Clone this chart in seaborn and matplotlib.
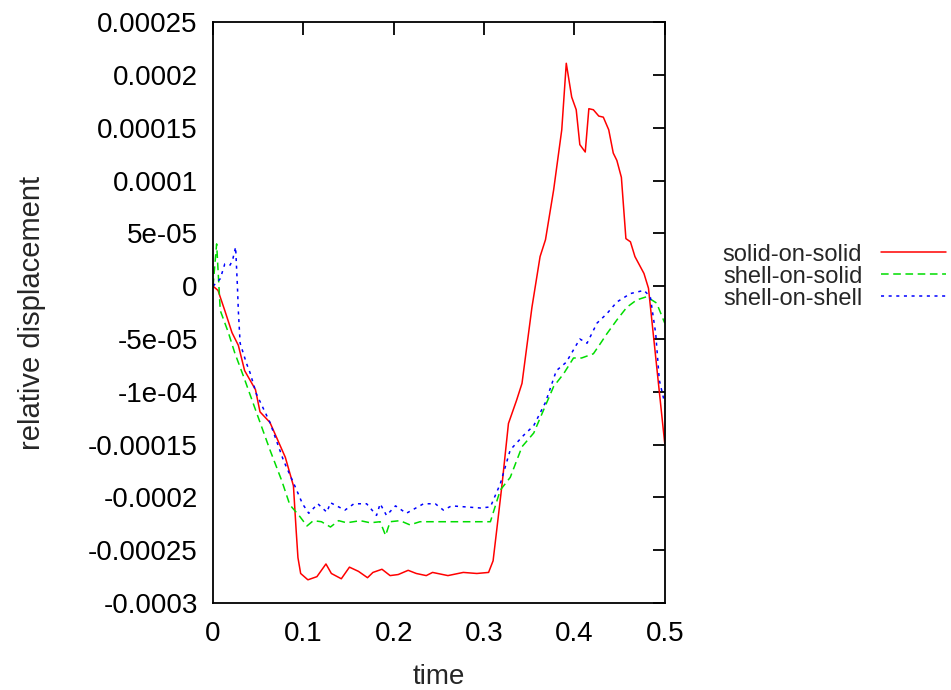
import numpy as np
import pandas as pd
import matplotlib
matplotlib.use("Agg")
import matplotlib.pyplot as plt
import seaborn as sns

# solid-on-solid
t_solid = [0.0, 0.0055, 0.013, 0.021, 0.028, 0.035, 0.047, 0.052, 0.063, 0.080, 0.089, 0.092,
           0.094, 0.097, 0.105, 0.115, 0.125, 0.131, 0.142, 0.151, 0.161, 0.171, 0.177, 0.187,
           0.196, 0.205, 0.216, 0.225, 0.236, 0.243, 0.260, 0.277, 0.292, 0.305, 0.310, 0.314,
           0.320, 0.327, 0.336, 0.342, 0.353, 0.362, 0.368, 0.377, 0.386, 0.391, 0.397,
           0.402, 0.406, 0.412, 0.416, 0.421, 0.427, 0.432, 0.438, 0.443, 0.447, 0.452, 0.457,
           0.462, 0.467, 0.477, 0.482, 0.5]
y_solid = [0.0, -0.4e-5, -2.3e-5, -4.4e-5, -5.6e-5, -8.0e-5, -9.8e-5, -1.19e-4, -1.29e-4,
           -1.62e-4, -1.89e-4, -2.31e-4, -2.57e-4, -2.72e-4, -2.78e-4, -2.75e-4, -2.63e-4,
           -2.72e-4, -2.77e-4, -2.66e-4, -2.70e-4, -2.76e-4, -2.71e-4, -2.68e-4, -2.74e-4,
           -2.73e-4, -2.69e-4, -2.72e-4, -2.74e-4, -2.71e-4, -2.74e-4, -2.71e-4, -2.72e-4,
           -2.71e-4, -2.60e-4, -2.31e-4, -1.87e-4, -1.30e-4, -1.08e-4, -0.92e-4, -0.20e-4,
           2.8e-5, 4.4e-5, 9.1e-5, 1.48e-4, 2.11e-4, 1.79e-4, 1.67e-4, 1.34e-4, 1.27e-4,
           1.68e-4, 1.67e-4, 1.61e-4, 1.60e-4, 1.48e-4, 1.26e-4, 1.19e-4, 1.03e-4, 4.5e-5,
           4.2e-5, 2.8e-5, 1.2e-5, -0.2e-5, -1.49e-4]

# shell-on-solid
t_shell_solid = [0.0, 0.004, 0.008, 0.017, 0.024, 0.034, 0.047, 0.063, 0.076, 0.085, 0.096,
                 0.104, 0.111, 0.120, 0.130, 0.139, 0.148, 0.163, 0.174, 0.185,
                 0.191, 0.196, 0.207, 0.218, 0.229, 0.25, 0.27, 0.29, 0.307, 0.318, 0.329,
                 0.342, 0.355, 0.369, 0.377, 0.388, 0.399, 0.408, 0.421, 0.429, 0.436,
                 0.447, 0.458, 0.469, 0.480, 0.491, 0.5]
y_shell_solid = [0.0, 4.0e-5, -2.3e-5, -4.4e-5, -6.3e-5, -8.6e-5, -1.17e-4, -1.55e-4, -1.84e-4,
                 -2.07e-4, -2.18e-4, -2.27e-4, -2.22e-4, -2.23e-4, -2.28e-4,
                 -2.22e-4, -2.24e-4, -2.22e-4, -2.24e-4, -2.23e-4, -2.36e-4, -2.23e-4, -2.22e-4,
                 -2.26e-4, -2.23e-4, -2.23e-4, -2.23e-4, -2.23e-4, -2.23e-4, -1.93e-4, -1.81e-4,
                 -1.52e-4, -1.39e-4, -1.11e-4, -0.95e-4, -0.83e-4, -0.68e-4, -0.68e-4,
                 -0.64e-4, -0.54e-4, -0.45e-4, -0.32e-4, -0.20e-4, -0.13e-4, -0.10e-4, -0.16e-4,
                 -0.35e-4]

# shell-on-shell
t_shell_shell = [0.0, 0.008, 0.013, 0.019, 0.022, 0.025, 0.027, 0.028, 0.030, 0.037, 0.041,
                 0.048, 0.063, 0.078, 0.091, 0.099, 0.106, 0.116, 0.126, 0.130, 0.146, 0.156,
                 0.170, 0.181, 0.185, 0.192, 0.202, 0.214, 0.233, 0.246, 0.255, 0.264, 0.296,
                 0.307, 0.318, 0.329, 0.344, 0.355, 0.368, 0.380, 0.391, 0.406, 0.414,
                 0.425, 0.436, 0.447, 0.462, 0.477, 0.484, 0.490, 0.494, 0.5]
y_shell_shell = [0.0, 0.7e-5, 2.1e-5, 2.0e-5, 2.6e-5, 3.7e-5, 0.0, -2.3e-5, -5.4e-5, -7.3e-5,
                 -8.2e-5, -1.02e-4, -1.29e-4, -1.65e-4, -1.90e-4, -2.06e-4, -2.15e-4, -2.06e-4,
                 -2.14e-4, -2.05e-4, -2.12e-4, -2.06e-4, -2.06e-4, -2.17e-4, -2.06e-4, -2.17e-4,
                 -2.08e-4, -2.15e-4, -2.06e-4, -2.06e-4, -2.12e-4, -2.08e-4, -2.10e-4, -2.09e-4,
                 -1.87e-4, -1.55e-4, -1.41e-4, -1.32e-4, -1.10e-4, -0.80e-4, -0.72e-4,
                 -0.50e-4, -0.54e-4, -0.35e-4, -0.26e-4, -0.15e-4, -0.07e-4, -0.04e-4, -0.10e-4,
                 -0.45e-4, -0.89e-4, -1.11e-4]

y_ticks = [0.00025, 0.0002, 0.00015, 0.0001, 5e-05, 0, -5e-05, -1e-04, -0.00015, -0.0002,
           -0.00025, -0.0003]
y_tick_labels = ["0.00025", "0.0002", "0.00015", "0.0001", "5e-05", "0", "-5e-05", "-1e-04",
                 "-0.00015", "-0.0002", "-0.00025", "-0.0003"]
x_ticks = [0, 0.1, 0.2, 0.3, 0.4, 0.5]
x_tick_labels = ["0", "0.1", "0.2", "0.3", "0.4", "0.5"]

sns.set_style("white")
plt.rcParams["font.family"] = ["Liberation Sans", "DejaVu Sans"]

fig = plt.figure(figsize=(9.51, 6.9), dpi=100)
ax = fig.add_axes([0.224, 0.126, 0.475, 0.842])

sns.lineplot(x=t_solid, y=y_solid, ax=ax, color="#ff0000", lw=1.1, label="solid-on-solid")
sns.lineplot(x=t_shell_solid, y=y_shell_solid, ax=ax, color="#00dd00", lw=1.1,
             label="shell-on-solid", linestyle=(0, (5, 3)))
sns.lineplot(x=t_shell_shell, y=y_shell_shell, ax=ax, color="#0000ff", lw=1.1,
             label="shell-on-shell", linestyle=(0, (2, 3)))

ax.set_xlim(0, 0.5)
ax.set_ylim(-0.0003, 0.00025)
ax.set_xticks(x_ticks)
ax.set_xticklabels(x_tick_labels)
ax.set_yticks(y_ticks)
ax.set_yticklabels(y_tick_labels)
ax.tick_params(direction="in", length=9, width=1.3, top=True, right=True, labelsize=20,
               colors="black")
ax.tick_params(axis="y", pad=11)
ax.tick_params(axis="x", pad=13)
for s in ax.spines.values():
    s.set_color("black")
    s.set_linewidth(1.3)
ax.set_xlabel("time", fontsize=20, labelpad=12)
ax.set_ylabel("relative displacement", fontsize=21, labelpad=30)

ax.legend(loc="upper left", bbox_to_anchor=(0.760, 0.647), bbox_transform=fig.transFigure,
          frameon=False, markerfirst=False, fontsize=17, handlelength=2.75,
          handletextpad=0.8, labelspacing=0.0, borderpad=0, borderaxespad=0)

fig.savefig("out.png", dpi=100, facecolor="white")
